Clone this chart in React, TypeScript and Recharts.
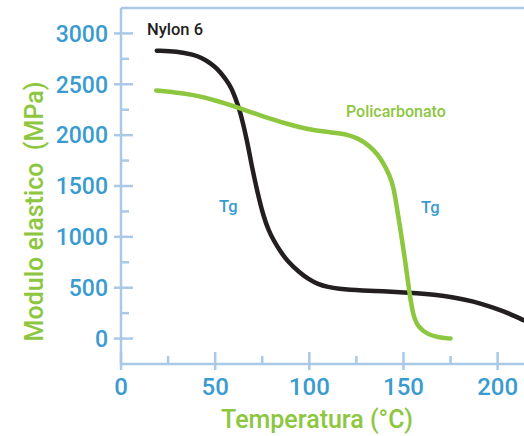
import { LineChart, Line, XAxis, YAxis, ReferenceLine } from "recharts";

// axis ticks (major every 50 °C / 500 MPa, minor halfway)
const xTicks = [0, 25, 50, 75, 100, 125, 150, 175, 200];
const yTicks = [0, 250, 500, 750, 1000, 1250, 1500, 1750, 2000, 2250, 2500, 2750, 3000];

// Nylon 6 curve
const nylonTemp = [19, 29.7, 38.5, 43, 47.4, 51, 54.5, 57.5, 59.8, 62, 63.5, 66.9, 69.5, 72.2, 75.7, 78.5, 81, 84.5, 88, 95, 100, 104, 110, 116, 122, 127, 140, 148, 157, 166, 176.5, 187, 198, 206.5, 214, 220];
const nylonModulus = [2830, 2824, 2791, 2760, 2709, 2655, 2577, 2500, 2413, 2300, 2215, 1953, 1690, 1460, 1196, 1060, 966, 860, 769, 645, 580, 540, 505, 488, 478, 473, 465, 457, 446, 432, 407, 368, 303, 244, 178, 130];

// Policarbonato curve
const pcTemp = [18.7, 29, 37, 44, 51, 58, 63.3, 68.6, 75, 82, 88, 95, 100, 106, 111, 116.4, 121, 125.3, 130, 134, 137.5, 140.3, 142.7, 144.7, 146.4, 148.2, 150.9, 153.2, 155.3, 158, 162.4, 168, 175];
const pcModulus = [2440, 2420, 2400, 2372, 2337, 2296, 2262, 2228, 2188, 2146, 2112, 2077, 2057, 2039, 2028, 2017, 2000, 1972, 1922, 1856, 1782, 1690, 1600, 1492, 1300, 1098, 769, 441, 210, 110, 46, 12, 0];

const nylonData = nylonTemp.map((t, i) => ({ temp: t, modulus: nylonModulus[i] }));
const pcData = pcTemp.map((t, i) => ({ temp: t, modulus: pcModulus[i] }));

const AXIS = "#a9c9e6";
const BLUE = "#3a9bd0";
const GREEN = "#8dc63f";
const BLACK = "#231f20";
const FONT = "Roboto, 'Liberation Sans', Arial, sans-serif";

function YTick({ x, y, payload }: any) {
  const major = payload.value % 500 === 0;
  return (
    <g>
      <line x1={major ? x - 7 : x} x2={x + (major ? 12 : 8)} y1={y} y2={y} stroke={AXIS} strokeWidth={2.5} />
      {major && (
        <text x={x - 13} y={y + 8.3} textAnchor="end" fill={BLUE} fontSize={23} fontWeight={500} fontFamily={FONT}>
          {payload.value}
        </text>
      )}
    </g>
  );
}

function XTick({ x, y, payload }: any) {
  const major = payload.value % 50 === 0;
  return (
    <g>
      <line x1={x} x2={x} y1={y - (major ? 12 : 8)} y2={y + (major ? 6 : 0)} stroke={AXIS} strokeWidth={2.5} />
      {major && (
        <text x={x} y={y + 31} textAnchor="middle" fill={BLUE} fontSize={24} fontWeight={500} fontFamily={FONT}>
          {payload.value}
        </text>
      )}
    </g>
  );
}

export default function App() {
  return (
    <div style={{ position: "absolute", left: 0, top: 0 }}>
      <LineChart width={524} height={436} margin={{ top: 8, right: 0, bottom: 0, left: 0 }}>
        <XAxis
          type="number"
          dataKey="temp"
          domain={[0, 214]}
          allowDataOverflow
          ticks={xTicks}
          interval={0}
          height={72}
          tickSize={0}
          tickMargin={0}
          tickLine={false}
          axisLine={{ stroke: AXIS, strokeWidth: 2.5 }}
          tick={(p: any) => <XTick {...p} />}
        />
        <YAxis
          type="number"
          domain={[-250, 3250]}
          ticks={yTicks}
          interval={0}
          width={121}
          tickSize={0}
          tickMargin={0}
          tickLine={false}
          axisLine={{ stroke: AXIS, strokeWidth: 2.5 }}
          tick={(p: any) => <YTick {...p} />}
        />
        <ReferenceLine y={3250} stroke={AXIS} strokeWidth={2.5} />
        <Line
          data={nylonData}
          dataKey="modulus"
          type="basis"
          stroke={BLACK}
          strokeWidth={4.5}
          strokeLinecap="round"
          dot={false}
          activeDot={false}
          isAnimationActive={false}
        />
        <Line
          data={pcData}
          dataKey="modulus"
          type="basis"
          stroke={GREEN}
          strokeWidth={4.5}
          strokeLinecap="round"
          dot={false}
          activeDot={false}
          isAnimationActive={false}
        />

        {/* annotations */}
        <text x={147} y={35} fill={BLACK} fontSize={16.5} fontWeight={500} fontFamily={FONT}>Nylon 6</text>
        <text x={346} y={117} fill={GREEN} fontSize={16} fontWeight={500} fontFamily={FONT}>Policarbonato</text>
        <text x={219} y={212} fill={BLUE} fontSize={16.5} fontWeight={500} fontFamily={FONT}>Tg</text>
        <text x={421} y={213} fill={BLUE} fontSize={16.5} fontWeight={500} fontFamily={FONT}>Tg</text>

        {/* axis titles */}
        <text
          x={43}
          y={211.5}
          transform="rotate(-90 43 211.5)"
          textAnchor="middle"
          fill={GREEN}
          fontSize={25}
          fontWeight={500}
          fontFamily={FONT}
          style={{ whiteSpace: "pre" }}
        >
          {"Modulo elastico  (MPa)"}
        </text>
        <text x={317} y={428} textAnchor="middle" fill={GREEN} fontSize={25} fontWeight={500} fontFamily={FONT}>
          Temperatura (°C)
        </text>
      </LineChart>
    </div>
  );
}
